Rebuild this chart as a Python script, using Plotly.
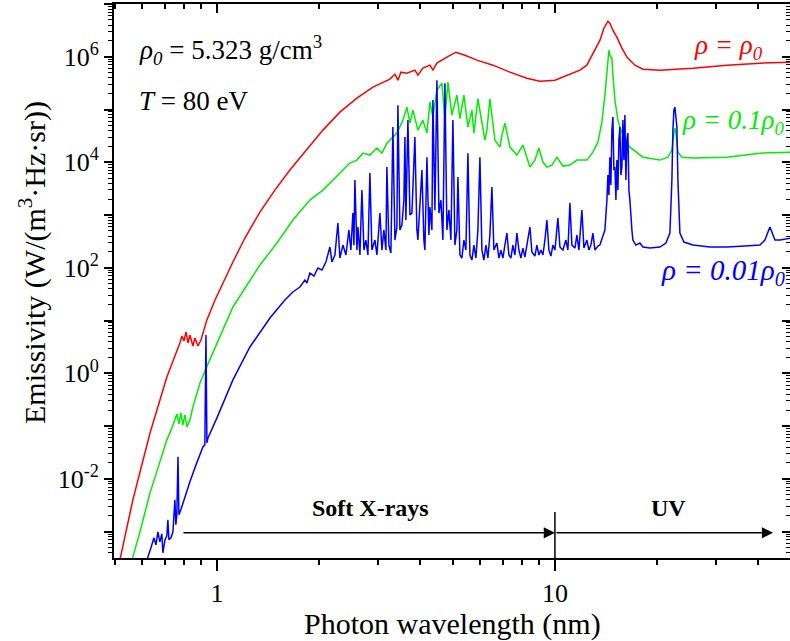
import math
import plotly.graph_objects as go

# ---------------- data (wavelength in nm, emissivity in W/(m^3 Hz sr)) ----------------
red_wl = [0.509, 0.564, 0.634, 0.711, 0.777, 0.788, 0.799, 0.810, 0.821, 0.832, 0.849, 0.861,
          0.879, 0.897, 0.934, 0.987, 1.115, 1.210, 1.340, 1.484, 1.644, 1.846, 2.059, 2.311,
          2.595, 2.894, 3.249, 3.362, 3.431, 3.502, 3.648, 3.852, 3.932, 4.068, 4.267, 4.355,
          4.475, 4.791, 5.094, 5.416, 5.877, 6.554, 7.359, 8.262, 9.027, 10.0, 11.07, 11.86,
          12.43, 12.95, 13.59, 13.96, 14.35, 14.54, 14.84, 15.25, 15.78, 16.33, 17.24, 18.21,
          20.45, 25.60, 32.27, 40.41, 50.0]
red_em = [1.9e-4, 4.0e-3, 7.4e-2, 0.855, 3.76, 5.11, 4.11, 6.08, 3.76, 5.34, 3.3, 4.68,
          3.3, 4.29, 10.3, 24.6, 129, 367, 1.14e3, 2.97e3, 7.12e3, 1.78e4, 4.07e4, 8.93e4,
          1.64e5, 2.66e5, 3.77e5, 4.68e5, 3.6e5, 5.11e5, 4.89e5, 5.58e5, 4.48e5, 6.08e5, 6.93e5, 5.58e5,
          7.57e5, 9.83e5, 1.22e6, 1.07e6, 8.62e5, 6.93e5, 5.11e5, 3.93e5, 3.45e5, 3.6e5, 4.68e5, 5.58e5,
          6.93e5, 1.17e6, 2.06e6, 3.48e6, 4.72e6, 4.33e6, 3.19e6, 2.35e6, 1.46e6, 9.83e5, 6.93e5, 5.82e5,
          5.58e5, 6.08e5, 6.93e5, 7.57e5, 7.9e5]

green_wl = [0.553, 0.564, 0.592, 0.634, 0.678, 0.711, 0.736, 0.751, 0.761, 0.772, 0.782, 0.793,
            0.804, 0.815, 0.832, 0.849, 0.891, 0.941, 1.000, 1.115, 1.340, 1.505, 1.678, 1.884,
            2.059, 2.311, 2.474, 2.595, 2.703, 2.835, 2.974, 3.077, 3.183, 3.249, 3.408, 3.550,
            3.648, 3.724, 3.800, 3.932, 4.068, 4.181, 4.267, 4.355, 4.475, 4.630, 4.726, 4.824,
            4.957, 5.128, 5.235, 5.379, 5.528, 5.680, 5.758, 5.917, 6.206, 6.292, 6.421, 6.644,
            6.874, 6.968, 7.112, 7.359, 7.718, 7.877, 8.040, 8.433, 8.725, 8.966, 9.214, 9.468,
            9.796, 10.137, 10.559, 11.074, 11.614, 12.433, 12.952, 13.401, 13.771, 14.056, 14.249, 14.444,
            14.543, 14.742, 14.843, 15.047, 15.358, 15.568, 16.107, 16.666, 18.208, 20.445, 21.590, 22.186,
            22.491, 22.644, 22.799, 23.112, 23.750, 25.599, 32.271, 40.406, 50.0]
green_em = [1.9e-4, 3.33e-4, 9.9e-4, 5.43e-3, 0.021, 0.0548, 0.0924, 0.131, 0.170, 0.110, 0.178, 0.105,
            0.163, 0.0966, 0.131, 0.231, 0.658, 1.51, 3.76, 18.1, 113, 295, 804, 1.92e3,
            2.97e3, 6.25e3, 9.66e3, 1.1e4, 1.49e4, 1.37e4, 1.86e4, 1.49e4, 2.31e4, 2.63e4, 3.57e4, 6.3e4,
            1.11e5, 5.53e4, 9.74e4, 4.07e4, 6.3e4, 3.57e4, 1.38e5, 7.18e4, 2.33e5, 3.16e5, 6.7e4, 3.3e5,
            7.83e4, 1.87e5, 6.7e4, 1.87e5, 4.64e4, 9.74e4, 3.57e4, 1.6e5, 2.63e4, 4.07e4, 1.6e5, 2.63e4,
            1.94e4, 3.27e4, 5.53e4, 1.94e4, 1.37e4, 1.7e4, 2.12e4, 8.11e3, 1.1e4, 1.86e4, 1.01e4, 8.11e3,
            8.85e3, 1.25e4, 8.47e3, 8.85e3, 1.1e4, 1.1e4, 1.56e4, 2.41e4, 5.77e4, 1.87e5, 5.58e5, 1.33e6,
            1.07e6, 9.41e5, 4.48e5, 1.51e5, 6.3e4, 4.64e4, 2.63e4, 1.94e4, 1.25e4, 1.1e4, 1.25e4, 1.7e4,
            3.57e4, 4.44e4, 3.57e4, 1.56e4, 1.25e4, 1.2e4, 1.25e4, 1.49e4, 1.56e4]

blue_wl = [0.617, 0.625, 0.638, 0.651, 0.660, 0.669, 0.678, 0.687, 0.692, 0.702, 0.711, 0.716,
           0.721, 0.731, 0.741, 0.751, 0.756, 0.761, 0.767, 0.772, 0.782, 0.799, 0.832, 0.867,
           0.909, 0.921, 0.928, 0.934, 0.941, 1.000, 1.115, 1.252, 1.435, 1.589, 1.678, 1.760,
           1.821, 1.846, 1.884, 1.936, 1.990, 2.045, 2.101, 2.159, 2.189, 2.234, 2.280, 2.311,
           2.359, 2.408, 2.457, 2.491, 2.525, 2.543, 2.560, 2.595, 2.613, 2.649, 2.685, 2.722,
           2.759, 2.797, 2.835, 2.874, 2.934, 2.974, 3.035, 3.077, 3.119, 3.162, 3.183, 3.227,
           3.271, 3.316, 3.362, 3.408, 3.431, 3.478, 3.526, 3.574, 3.599, 3.623, 3.673, 3.724,
           3.775, 3.852, 3.905, 3.932, 3.986, 4.041, 4.096, 4.124, 4.181, 4.238, 4.267, 4.326,
           4.355, 4.415, 4.475, 4.537, 4.599, 4.662, 4.726, 4.791, 4.857, 4.923, 4.991, 5.059,
           5.128, 5.164, 5.235, 5.306, 5.379, 5.453, 5.528, 5.604, 5.680, 5.758, 5.837, 5.917,
           5.999, 6.081, 6.164, 6.249, 6.335, 6.421, 6.509, 6.599, 6.735, 6.827, 6.921, 7.016,
           7.112, 7.210, 7.309, 7.409, 7.511, 7.614, 7.718, 7.824, 7.931, 8.040, 8.150, 8.262,
           8.433, 8.548, 8.725, 8.844, 8.966, 9.089, 9.214, 9.340, 9.468, 9.598, 9.730, 9.863,
           10.0, 10.205, 10.345, 10.559, 10.776, 10.924, 11.074, 11.226, 11.458, 11.614, 11.775, 12.018,
           12.182, 12.433, 12.604, 12.777, 12.952, 13.130, 13.401, 13.585, 13.865, 14.056, 14.249, 14.346,
           14.444, 14.543, 14.642, 14.742, 14.843, 14.945, 15.047, 15.150, 15.253, 15.358, 15.462, 15.568,
           15.674, 15.781, 15.889, 15.998, 16.107, 16.217, 16.329, 16.441, 16.553, 16.666, 16.894, 17.010,
           17.361, 17.840, 18.208, 19.098, 20.445, 21.298, 21.886, 22.186, 22.338, 22.491, 22.644, 22.799,
           22.955, 23.112, 23.429, 24.076, 25.599, 28.742, 32.271, 36.480, 40.406, 41.806, 43.255, 43.848,
           44.753, 46.304, 50.0]
blue_em = [1.9e-4, 3.33e-4, 4.93e-4, 7.63e-4, 5.62e-4, 9.9e-4, 6.41e-4, 9.08e-4, 3.97e-4, 7.0e-4, 8.33e-4, 1.67e-3,
           7.0e-4, 7.63e-4, 9.9e-4, 4.0e-3, 1.35e-3, 2.08e-3, 0.0261, 2.08e-3, 2.59e-3, 4.0e-3, 8.77e-3, 0.0184,
           0.0404, 0.0441, 5.34, 0.0481, 0.0598, 0.143, 0.75, 3.16, 11.2, 24.6, 34.8, 43.3,
           58.7, 51.5, 79.7, 69.9, 99.1, 90.9, 129, 248, 129, 175, 706, 153,
           270, 175, 520, 217, 1090, 270, 4600, 217, 593, 175, 2970, 217,
           336, 175, 6250, 217, 336, 175, 1090, 217, 520, 217, 8110, 270,
           191, 4.64e4, 336, 593, 1.21e5, 520, 647, 1920, 3.0e4, 804, 6.3e4, 1000,
           1090, 3.0e4, 520, 336, 1920, 7120, 336, 217, 1.25e4, 418, 1420, 520,
           1.51e5, 1240, 3.6e5, 1090, 1920, 336, 3.16e5, 520, 1240, 336, 6.3e4, 270,
           520, 5240, 175, 153, 336, 217, 1.49e4, 175, 140, 270, 153, 520,
           1.25e4, 217, 140, 270, 153, 418, 3390, 217, 295, 153, 217, 153,
           270, 456, 175, 153, 270, 175, 456, 217, 153, 237, 160, 270,
           593, 199, 167, 270, 175, 217, 175, 336, 804, 217, 167, 270,
           217, 877, 248, 217, 336, 217, 1690, 270, 237, 418, 217, 1240,
           237, 336, 217, 270, 456, 217, 259, 270, 418, 520, 1920, 5720,
           2390, 1.25e4, 3700, 4.07e4, 7.18e4, 7120, 8110, 1920, 1.1e4, 2970, 2.63e4, 4.64e4,
           5720, 8110, 6.3e4, 1.1e4, 7.83e4, 4600, 2.63e4, 3.57e4, 2970, 1920, 520, 336,
           270, 295, 248, 237, 248, 295, 456, 4600, 4.07e4, 9.74e4, 1.11e5, 7.83e4,
           4.64e4, 4600, 456, 308, 270, 248, 248, 259, 270, 336, 593, 476,
           336, 336, 367]

assert len(red_wl) == len(red_em)
assert len(green_wl) == len(green_em)
assert len(blue_wl) == len(blue_em)

x_ticks = [1, 10]
x_ticklabels = ["1", "10"]
y_ticks = [1e-3, 1e-2, 1e-1, 1e0, 1e1, 1e2, 1e3, 1e4, 1e5, 1e6, 1e7]
y_ticklabels = ["", "10<sup>-2</sup>", "", "10<sup>0</sup>", "", "10<sup>2</sup>", "",
                "10<sup>4</sup>", "", "10<sup>6</sup>", ""]

X_MIN, X_MAX = 0.496, 49.6
Y_MIN_LOG, Y_MAX_LOG = -3.5, 7.0

x_minor = [0.5, 0.6, 0.7, 0.8, 0.9, 2, 3, 4, 5, 6, 7, 8, 9, 20, 30, 40]
y_minor = [k * 10.0 ** d for d in range(-4, 7) for k in range(2, 10)
           if Y_MIN_LOG <= math.log10(k * 10.0 ** d) <= Y_MAX_LOG]

FONT = "'Liberation Serif', Tinos, 'Times New Roman', Times, 'DejaVu Serif', serif"

fig = go.Figure()
fig.add_trace(go.Scatter(x=red_wl, y=red_em, mode="lines", line=dict(color="#ff0000", width=1.5),
                         showlegend=False, hoverinfo="skip"))
fig.add_trace(go.Scatter(x=green_wl, y=green_em, mode="lines", line=dict(color="#00ee00", width=1.5),
                         showlegend=False, hoverinfo="skip"))
fig.add_trace(go.Scatter(x=blue_wl, y=blue_em, mode="lines", line=dict(color="#0000ff", width=1.5),
                         showlegend=False, hoverinfo="skip"))
# dummy trace for mirrored (inside-tick) top/right axes
fig.add_trace(go.Scatter(x=[None], y=[None], xaxis="x2", yaxis="y2", showlegend=False, hoverinfo="skip"))

xr = [math.log10(X_MIN), math.log10(X_MAX)]
yr = [Y_MIN_LOG, Y_MAX_LOG]

common_x = dict(type="log", range=xr, showgrid=False, zeroline=False, showline=True,
                linecolor="black", linewidth=2, tickcolor="black", tickwidth=1.5)
common_y = dict(type="log", range=yr, showgrid=False, zeroline=False, showline=True,
                linecolor="black", linewidth=2, tickcolor="black", tickwidth=1.5)

fig.update_layout(
    width=790, height=641,
    margin=dict(l=114, r=0, t=4, b=83),
    paper_bgcolor="white", plot_bgcolor="white",
    font=dict(family=FONT, color="black"),
    showlegend=False,
    xaxis=dict(**common_x, tickmode="array", tickvals=x_ticks, ticktext=x_ticklabels,
               ticks="outside", ticklen=11, tickfont=dict(size=26, family=FONT),
               minor=dict(tickmode="array", tickvals=x_minor, ticks="outside", ticklen=5,
                          tickwidth=1.5, tickcolor="black", showgrid=False)),
    yaxis=dict(**common_y, tickmode="array", tickvals=y_ticks, ticktext=y_ticklabels,
               ticks="outside", ticklen=8, tickfont=dict(size=26, family=FONT),
               minor=dict(tickmode="array", tickvals=y_minor, ticks="outside", ticklen=4,
                          tickwidth=1, tickcolor="black", showgrid=False)),
    xaxis2=dict(**common_x, overlaying="x", side="top", anchor="y2", tickmode="array",
                tickvals=x_ticks, ticks="inside", ticklen=9, showticklabels=False,
                minor=dict(tickmode="array", tickvals=x_minor, ticks="inside", ticklen=5,
                           tickwidth=1.5, tickcolor="black", showgrid=False)),
    yaxis2=dict(**common_y, overlaying="y", side="right", anchor="x2", tickmode="array",
                tickvals=y_ticks, ticks="inside", ticklen=8, showticklabels=False,
                minor=dict(tickmode="array", tickvals=y_minor, ticks="inside", ticklen=4,
                           tickwidth=1, tickcolor="black", showgrid=False)),
)

def px_x(px):
    return (px - 114) / 676.0

def px_y(py):
    return (558 - py) / 554.0

ann = []
# axis titles
ann.append(dict(text="Emissivity (W/(m<sup>3</sup>·Hz·sr))", textangle=-90, xref="paper", yref="paper",
                x=px_x(32), y=px_y(263), xanchor="center", yanchor="middle", showarrow=False,
                font=dict(size=30, family=FONT, color="black")))
ann.append(dict(text="Photon wavelength (nm)", xref="paper", yref="paper",
                x=px_x(452), y=px_y(624), xanchor="center", yanchor="middle", showarrow=False,
                font=dict(size=30, family=FONT, color="black")))
# parameters
ann.append(dict(text="<i>ρ<sub>0</sub></i> = 5.323 g/cm<sup>3</sup>", xref="paper", yref="paper",
                x=px_x(137), y=px_y(50), xanchor="left", yanchor="middle", showarrow=False,
                font=dict(size=27, family=FONT, color="black")))
ann.append(dict(text="<i>T</i> = 80 eV", xref="paper", yref="paper",
                x=px_x(137), y=px_y(101), xanchor="left", yanchor="middle", showarrow=False,
                font=dict(size=27, family=FONT, color="black")))
# series labels
ann.append(dict(text="<i>ρ = ρ<sub>0</sub></i>", xref="paper", yref="paper",
                x=px_x(692), y=px_y(47), xanchor="left", yanchor="middle", showarrow=False,
                font=dict(size=27, family=FONT, color="#ff0000")))
ann.append(dict(text="<i>ρ = 0.1ρ<sub>0</sub></i>", xref="paper", yref="paper",
                x=px_x(680), y=px_y(122), xanchor="left", yanchor="middle", showarrow=False,
                font=dict(size=27, family=FONT, color="#00ee00")))
ann.append(dict(text="<i>ρ = 0.01ρ<sub>0</sub></i>", xref="paper", yref="paper",
                x=px_x(659), y=px_y(272), xanchor="left", yanchor="middle", showarrow=False,
                font=dict(size=29, family=FONT, color="#0000ff")))
# region labels
ann.append(dict(text="<b>Soft X-rays</b>", xref="paper", yref="paper",
                x=px_x(370), y=px_y(508), xanchor="center", yanchor="middle", showarrow=False,
                font=dict(size=24, family=FONT, color="black")))
ann.append(dict(text="<b>UV</b>", xref="paper", yref="paper",
                x=px_x(668), y=px_y(508), xanchor="center", yanchor="middle", showarrow=False,
                font=dict(size=24, family=FONT, color="black")))
# arrows (log axes -> annotation coordinates are log10 values)
arrow_y = math.log10(9.5e-4)
ann.append(dict(x=math.log10(10), y=arrow_y, ax=math.log10(0.788), ay=arrow_y,
                xref="x", yref="y", axref="x", ayref="y", text="", showarrow=True,
                arrowhead=2, arrowsize=1.4, arrowwidth=1.6, arrowcolor="black", standoff=0))
ann.append(dict(x=math.log10(44.2), y=arrow_y, ax=math.log10(10), ay=arrow_y,
                xref="x", yref="y", axref="x", ayref="y", text="", showarrow=True,
                arrowhead=2, arrowsize=1.4, arrowwidth=1.6, arrowcolor="black", standoff=0))
fig.update_layout(annotations=ann)

x10 = (math.log10(10) - xr[0]) / (xr[1] - xr[0])
fig.add_shape(type="line", xref="paper", yref="paper", x0=x10, x1=x10,
              y0=px_y(512), y1=px_y(570), line=dict(color="black", width=1.5))

fig.write_html("out.html")
